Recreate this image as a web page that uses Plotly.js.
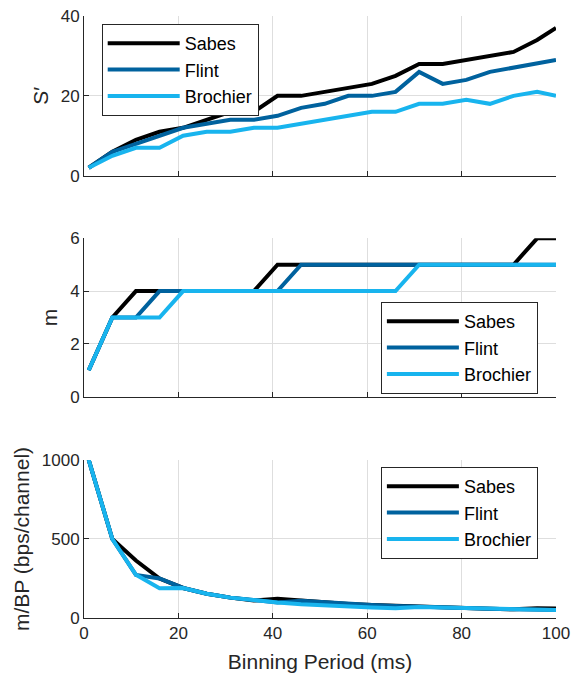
<!DOCTYPE html>
<html>
<head>
<meta charset="utf-8">
<script src="https://cdn.plot.ly/plotly-3.0.1.min.js"></script>
<style>html,body{margin:0;padding:0;background:#fff;}#chart{width:573px;height:677px;}</style>
</head>
<body>
<div id="chart"></div>
<script>
// Binning period (ms)
const binPeriod = [1, 6, 11, 16, 21, 26, 31, 36, 41, 46, 51, 56, 61, 66, 71, 76, 81, 86, 91, 96, 100];
const seriesNames = ["Sabes", "Flint", "Brochier"];

// S'
const sPrimeSabes    = [2, 6, 9, 11, 12, 14, 16, 16, 20, 20, 21, 22, 23, 25, 28, 28, 29, 30, 31, 34, 37];
const sPrimeFlint    = [2, 6, 8, 10, 12, 13, 14, 14, 15, 17, 18, 20, 20, 21, 26, 23, 24, 26, 27, 28, 29];
const sPrimeBrochier = [2, 5, 7, 7, 10, 11, 11, 12, 12, 13, 14, 15, 16, 16, 18, 18, 19, 18, 20, 21, 20];

// m
const mSabes    = [1, 3, 4, 4, 4, 4, 4, 4, 5, 5, 5, 5, 5, 5, 5, 5, 5, 5, 5, 6, 6];
const mFlint    = [1, 3, 3, 4, 4, 4, 4, 4, 4, 5, 5, 5, 5, 5, 5, 5, 5, 5, 5, 5, 5];
const mBrochier = [1, 3, 3, 3, 4, 4, 4, 4, 4, 4, 4, 4, 4, 4, 5, 5, 5, 5, 5, 5, 5];

// m/BP (bps/channel)
const rateSabes    = [1000, 500, 364, 250, 190, 154, 129, 111, 122, 109, 98, 89, 82, 76, 70, 66, 62, 58, 55, 62, 60];
const rateFlint    = [1000, 500, 273, 250, 190, 154, 129, 111, 98, 109, 98, 89, 82, 76, 70, 66, 62, 58, 55, 52, 50];
const rateBrochier = [1000, 500, 273, 188, 190, 154, 129, 111, 98, 87, 78, 71, 66, 61, 70, 66, 62, 58, 55, 52, 50];

const colors = ["#000000", "#00629e", "#18b4ee"];
const panels = [
  {ys: [sPrimeSabes, sPrimeFlint, sPrimeBrochier], xa: "x", ya: "y", lg: "legend"},
  {ys: [mSabes, mFlint, mBrochier], xa: "x2", ya: "y2", lg: "legend2"},
  {ys: [rateSabes, rateFlint, rateBrochier], xa: "x3", ya: "y3", lg: "legend3"}
];

const traces = [];
panels.forEach(p => {
  p.ys.forEach((ys, i) => {
    traces.push({
      type: "scatter", mode: "lines",
      x: binPeriod, y: ys, name: seriesNames[i],
      xaxis: p.xa, yaxis: p.ya, legend: p.lg,
      line: {color: colors[i], width: 4},
      cliponaxis: true
    });
  });
});

const txt = "#262626";
const fontFam = "Liberation Sans, Arial, sans-serif";
function xaxis(domainAnchor, showLabels) {
  return {
    anchor: domainAnchor, domain: [0, 1], range: [0, 100],
    tickvals: [0, 20, 40, 60, 80, 100], showticklabels: showLabels,
    ticks: "inside", ticklen: 5, tickcolor: txt, tickwidth: 1,
    showline: true, linecolor: txt, linewidth: 1,
    showgrid: true, gridcolor: "#dedede", gridwidth: 1, zeroline: false,
    tickfont: {family: fontFam, size: 17, color: txt}
  };
}
function yaxis(domain, range, tickvals, title, anchor) {
  return {
    anchor: anchor, domain: domain, range: range, tickvals: tickvals,
    ticks: "inside", ticklen: 5, tickcolor: txt, tickwidth: 1,
    showline: true, linecolor: txt, linewidth: 1,
    showgrid: true, gridcolor: "#dedede", gridwidth: 1, zeroline: false,
    tickfont: {family: fontFam, size: 17, color: txt},
    title: {text: title, font: {family: fontFam, size: 21, color: txt}, standoff: 6}
  };
}
function legend(x, y) {
  return {
    x: x, y: y, xanchor: "left", yanchor: "top",
    bgcolor: "#ffffff", bordercolor: txt, borderwidth: 1,
    font: {family: fontFam, size: 18, color: "#000"},
    itemwidth: 72, tracegroupgap: 0
  };
}

const layout = {
  width: 573, height: 677,
  margin: {l: 84, r: 17, t: 16, b: 59},
  paper_bgcolor: "#ffffff", plot_bgcolor: "#ffffff",
  showlegend: true,
  xaxis: xaxis("y", false),
  xaxis2: xaxis("y2", false),
  xaxis3: Object.assign(xaxis("y3", true), {
    title: {text: "Binning Period (ms)", font: {family: fontFam, size: 21, color: txt}, standoff: 11}
  }),
  yaxis: yaxis([0.7347, 1.0], [0, 40], [0, 20, 40], "S\u2032", "x"),
  yaxis2: yaxis([0.3676, 0.6307], [0, 6], [0, 2, 4, 6], "m", "x2"),
  yaxis3: yaxis([0, 0.2625], [0, 1000], [0, 500, 1000], "m/BP (bps/channel)", "x3"),
  legend: legend(0.0375, 0.9867),
  legend2: legend(0.629, 0.525),
  legend3: legend(0.629, 0.2508)
};

Plotly.newPlot("chart", traces, layout, {displayModeBar: false, staticPlot: true});
</script>
</body>
</html>
